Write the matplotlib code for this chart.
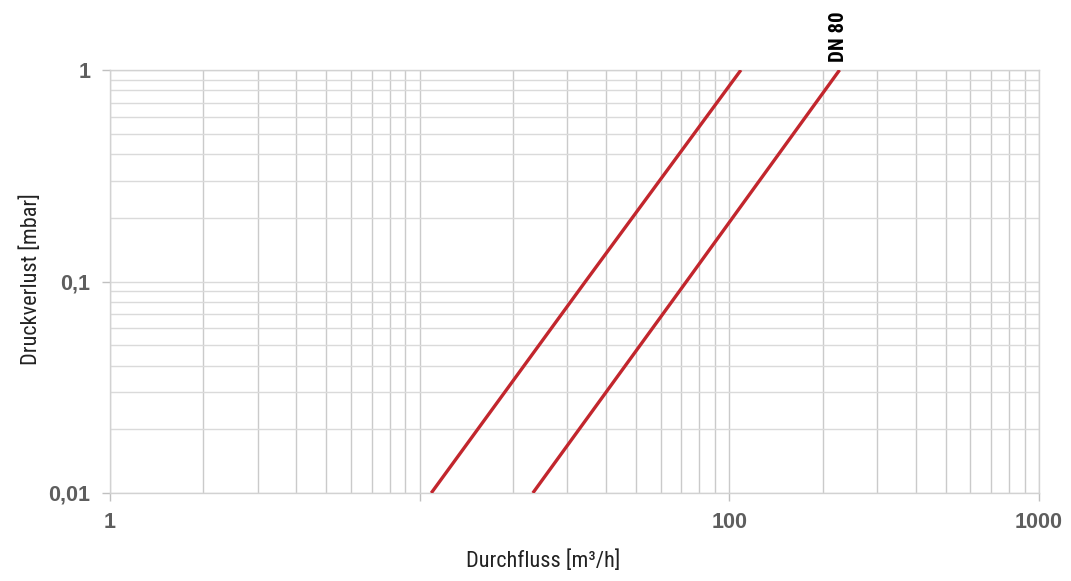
import numpy as np
import matplotlib.pyplot as plt
from matplotlib.ticker import LogLocator, NullFormatter, FixedFormatter, FixedLocator

# Pressure loss curves (flow in m3/h, loss in mbar)
dp_mbar = [0.01, 0.1, 1.0]
flow_small = [10.9, 34.3, 109.0]
flow_dn80 = [23.2, 72.7, 227.0]

x_ticks = [1, 10, 100, 1000]
x_ticklabels = ['1', '', '100', '1000']
y_ticks = [0.01, 0.1, 1]
y_ticklabels = ['0,01', '0,1', '1']

W, H = 1071, 581
fig = plt.figure(figsize=(W / 100, H / 100), dpi=100)
ax = fig.add_axes([110 / W, 1 - 493 / H, (1039 - 110) / W, (493 - 70) / H])

red = '#c2262d'
grid_c = '#d2d2d2'
narrow = ['Roboto Condensed', 'DejaVu Sans']

ax.plot(flow_small, dp_mbar, color=red, lw=2.4, solid_capstyle='butt', zorder=3)
ax.plot(flow_dn80, dp_mbar, color=red, lw=2.4, solid_capstyle='butt', zorder=3)

ax.set_xscale('log')
ax.set_yscale('log')
ax.set_xlim(1, 1000)
ax.set_ylim(0.01, 1)

ax.xaxis.set_major_locator(FixedLocator(x_ticks))
ax.xaxis.set_major_formatter(FixedFormatter(x_ticklabels))
ax.yaxis.set_major_locator(FixedLocator(y_ticks))
ax.yaxis.set_major_formatter(FixedFormatter(y_ticklabels))
ax.xaxis.set_minor_locator(LogLocator(base=10, subs=np.arange(2, 10)))
ax.yaxis.set_minor_locator(LogLocator(base=10, subs=np.arange(2, 10)))
ax.xaxis.set_minor_formatter(NullFormatter())
ax.yaxis.set_minor_formatter(NullFormatter())

# vertical grid a touch darker than the horizontal one, as in the source
ax.xaxis.grid(True, which='both', color='#cacaca', lw=1.0)
ax.yaxis.grid(True, which='both', color='#dadada', lw=1.0)
ax.tick_params(which='major', length=6, width=1, color='#c0c0c0',
               labelsize=15.5, labelcolor='#5e5e5e', pad=8,
               labelfontfamily='Liberation Sans')
ax.tick_params(which='minor', length=0)
for lab in ax.get_xticklabels() + ax.get_yticklabels():
    lab.set_fontweight('bold')
for s in ax.spines.values():
    s.set_color(grid_c)
    s.set_linewidth(1.0)

fig.text(543 / W, 1 - 561 / H, 'Durchfluss [m³/h]', ha='center', va='center',
         fontsize=16, family=narrow, color='#222222')
fig.text(31 / W, 1 - 279 / H, 'Druckverlust [mbar]', rotation=90,
         ha='center', va='center', fontsize=16, family=narrow, color='#222222')

ax.annotate('DN 80', xy=(flow_dn80[-1], dp_mbar[-1]), xytext=(-1, 6),
            textcoords='offset points', rotation=90, ha='center', va='bottom',
            fontsize=15, fontweight='bold', family=narrow, color='black',
            annotation_clip=False)

fig.savefig('out.png', dpi=100, facecolor='white')
plt.close(fig)
